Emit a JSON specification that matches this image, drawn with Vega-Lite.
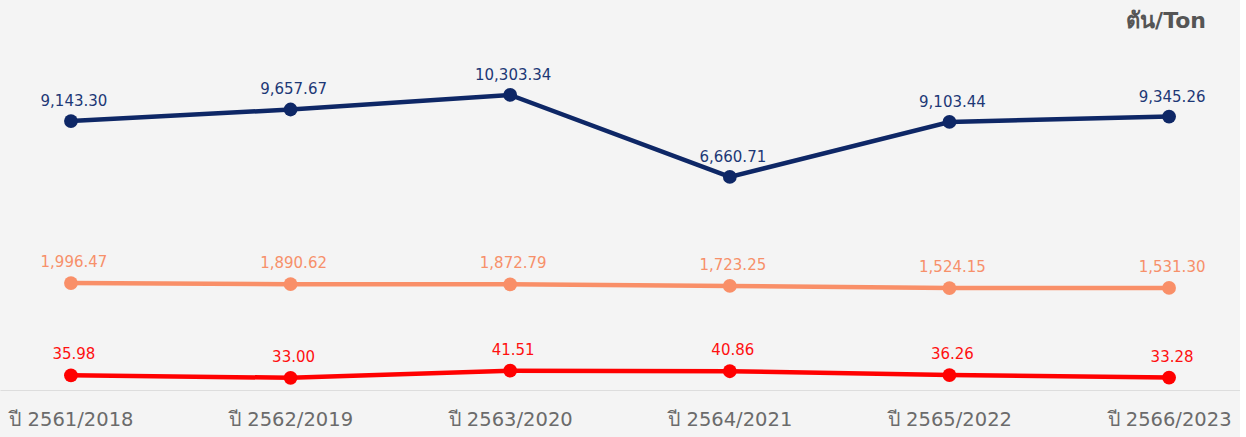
{
  "$schema": "https://vega.github.io/schema/vega-lite/v6.json",
  "width": 1240,
  "height": 437,
  "autosize": "none",
  "padding": 0,
  "background": "#f4f4f4",
  "config": {"view": {"stroke": null}},
  "title": {
    "text": "ตัน/Ton",
    "orient": "top",
    "anchor": "end",
    "frame": "group",
    "offset": -33,
    "dx": -34,
    "fontSize": 22,
    "fontWeight": "bold",
    "color": "#555555",
    "font": "DejaVu Sans"
  },
  "data": {
    "values": [
      {"year": "ปี 2561/2018", "series": "blue", "value": 9143.30, "label": "9,143.30"},
      {"year": "ปี 2562/2019", "series": "blue", "value": 9657.67, "label": "9,657.67"},
      {"year": "ปี 2563/2020", "series": "blue", "value": 10303.34, "label": "10,303.34"},
      {"year": "ปี 2564/2021", "series": "blue", "value": 6660.71, "label": "6,660.71"},
      {"year": "ปี 2565/2022", "series": "blue", "value": 9103.44, "label": "9,103.44"},
      {"year": "ปี 2566/2023", "series": "blue", "value": 9345.26, "label": "9,345.26"},
      {"year": "ปี 2561/2018", "series": "orange", "value": 1996.47, "label": "1,996.47"},
      {"year": "ปี 2562/2019", "series": "orange", "value": 1890.62, "label": "1,890.62"},
      {"year": "ปี 2563/2020", "series": "orange", "value": 1872.79, "label": "1,872.79"},
      {"year": "ปี 2564/2021", "series": "orange", "value": 1723.25, "label": "1,723.25"},
      {"year": "ปี 2565/2022", "series": "orange", "value": 1524.15, "label": "1,524.15"},
      {"year": "ปี 2566/2023", "series": "orange", "value": 1531.30, "label": "1,531.30"},
      {"year": "ปี 2561/2018", "series": "red", "value": 35.98, "label": "35.98"},
      {"year": "ปี 2562/2019", "series": "red", "value": 33.00, "label": "33.00"},
      {"year": "ปี 2563/2020", "series": "red", "value": 41.51, "label": "41.51"},
      {"year": "ปี 2564/2021", "series": "red", "value": 40.86, "label": "40.86"},
      {"year": "ปี 2565/2022", "series": "red", "value": 36.26, "label": "36.26"},
      {"year": "ปี 2566/2023", "series": "red", "value": 33.28, "label": "33.28"}
    ]
  },
  "encoding": {
    "x": {
      "field": "year",
      "type": "ordinal",
      "sort": null,
      "scale": {"type": "point", "padding": 0.323},
      "axis": {
        "title": null,
        "orient": "bottom",
        "offset": -47,
        "domainColor": "#dddddd",
        "domainWidth": 1,
        "ticks": false,
        "grid": false,
        "labelPadding": 20,
        "labelFontSize": 19.5,
        "labelColor": "#6b6b6b",
        "labelFont": "DejaVu Sans",
        "labelAngle": 0
      }
    }
  },
  "layer": [
    {
      "transform": [{"filter": "datum.series === 'blue'"}],
      "encoding": {
        "y": {"field": "value", "type": "quantitative", "scale": {"domain": [-4891, 14522], "zero": false, "nice": false}, "axis": null}
      },
      "layer": [
        {"mark": {"type": "line", "color": "#0e2766", "strokeWidth": 4.5}},
        {"mark": {"type": "point", "filled": true, "opacity": 1, "color": "#0e2766", "size": 190}},
        {"mark": {"type": "text", "dy": -15, "dx": 3, "baseline": "alphabetic", "fontSize": 15, "font": "DejaVu Sans", "color": "#1d3876"}, "encoding": {"text": {"field": "label"}}}
      ]
    },
    {
      "transform": [{"filter": "datum.series === 'orange'"}],
      "encoding": {
        "y": {"field": "value", "type": "quantitative", "scale": {"domain": [-12528, 28700], "zero": false, "nice": false}, "axis": null}
      },
      "layer": [
        {"mark": {"type": "line", "color": "#f98f68", "strokeWidth": 4.5}},
        {"mark": {"type": "point", "filled": true, "opacity": 1, "color": "#f98f68", "size": 190}},
        {"mark": {"type": "text", "dy": -16, "dx": 3, "baseline": "alphabetic", "fontSize": 15, "font": "DejaVu Sans", "color": "#f7906a"}, "encoding": {"text": {"field": "label"}}}
      ]
    },
    {
      "transform": [{"filter": "datum.series === 'red'"}],
      "encoding": {
        "y": {"field": "value", "type": "quantitative", "scale": {"domain": [-38, 486], "zero": false, "nice": false}, "axis": null}
      },
      "layer": [
        {"mark": {"type": "line", "color": "#ff0000", "strokeWidth": 4.5}},
        {"mark": {"type": "point", "filled": true, "opacity": 1, "color": "#ff0000", "size": 190}},
        {"mark": {"type": "text", "dy": -16, "dx": 3, "baseline": "alphabetic", "fontSize": 15, "font": "DejaVu Sans", "color": "#ff1010"}, "encoding": {"text": {"field": "label"}}}
      ]
    }
  ],
  "resolve": {"scale": {"y": "independent"}}
}
